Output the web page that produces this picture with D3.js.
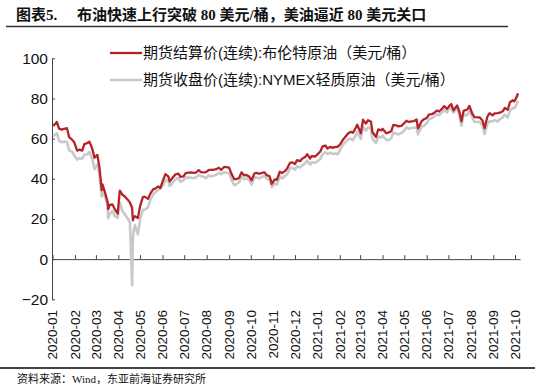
<!DOCTYPE html>
<html><head><meta charset="utf-8">
<script src="https://cdn.jsdelivr.net/npm/d3@7/dist/d3.min.js"></script>
<style>html,body{margin:0;padding:0;background:#fff}svg{display:block}</style>
</head><body><svg id="c" width="550" height="388"></svg>
<script>
const dates = ["2020-01-02","2020-01-07","2020-01-10","2020-01-14","2020-01-17","2020-01-21","2020-01-24","2020-01-28","2020-01-31",
"2020-02-04","2020-02-07","2020-02-11","2020-02-14","2020-02-18","2020-02-21","2020-02-25","2020-02-28",
"2020-03-03","2020-03-06","2020-03-09","2020-03-10","2020-03-13","2020-03-17","2020-03-18","2020-03-20","2020-03-24","2020-03-27","2020-03-31",
"2020-04-03","2020-04-07","2020-04-09","2020-04-14","2020-04-17","2020-04-20","2020-04-21","2020-04-22","2020-04-24","2020-04-28",
"2020-05-01","2020-05-05","2020-05-08","2020-05-12","2020-05-15","2020-05-19","2020-05-22","2020-05-26","2020-05-29",
"2020-06-02","2020-06-05","2020-06-09","2020-06-11","2020-06-16","2020-06-19","2020-06-23","2020-06-26","2020-06-30",
"2020-07-03","2020-07-07","2020-07-10","2020-07-14","2020-07-17","2020-07-21","2020-07-24","2020-07-28","2020-07-31",
"2020-08-04","2020-08-07","2020-08-11","2020-08-14","2020-08-18","2020-08-21","2020-08-25","2020-08-28",
"2020-09-01","2020-09-04","2020-09-08","2020-09-11","2020-09-15","2020-09-18","2020-09-22","2020-09-25","2020-09-29",
"2020-10-02","2020-10-06","2020-10-09","2020-10-13","2020-10-16","2020-10-20","2020-10-23","2020-10-27","2020-10-30",
"2020-11-03","2020-11-06","2020-11-10","2020-11-13","2020-11-17","2020-11-20","2020-11-24","2020-11-27",
"2020-12-01","2020-12-04","2020-12-08","2020-12-11","2020-12-15","2020-12-18","2020-12-22","2020-12-24","2020-12-29","2020-12-31",
"2021-01-05","2021-01-08","2021-01-12","2021-01-15","2021-01-19","2021-01-22","2021-01-26","2021-01-29",
"2021-02-02","2021-02-05","2021-02-09","2021-02-12","2021-02-16","2021-02-19","2021-02-23","2021-02-25",
"2021-03-02","2021-03-05","2021-03-09","2021-03-12","2021-03-16","2021-03-18","2021-03-23","2021-03-26","2021-03-30",
"2021-04-01","2021-04-06","2021-04-09","2021-04-13","2021-04-16","2021-04-20","2021-04-23","2021-04-27","2021-04-30",
"2021-05-04","2021-05-07","2021-05-11","2021-05-14","2021-05-18","2021-05-20","2021-05-25","2021-05-28",
"2021-06-01","2021-06-04","2021-06-08","2021-06-11","2021-06-15","2021-06-18","2021-06-22","2021-06-25","2021-06-29",
"2021-07-02","2021-07-05","2021-07-08","2021-07-13","2021-07-16","2021-07-19","2021-07-22","2021-07-27","2021-07-30",
"2021-08-03","2021-08-06","2021-08-10","2021-08-13","2021-08-17","2021-08-20","2021-08-24","2021-08-27","2021-08-31",
"2021-09-03","2021-09-07","2021-09-10","2021-09-14","2021-09-17","2021-09-21","2021-09-24","2021-09-28","2021-09-30",
"2021-10-04","2021-10-05"];
const brent = [66.3,68.3,65.0,64.5,64.9,65.2,60.7,59.5,58.2,
54.0,54.5,54.0,57.3,57.8,58.5,54.9,50.5,
51.9,45.3,34.4,37.2,33.9,28.7,24.9,27.0,27.2,24.9,22.7,
34.1,31.9,31.5,29.6,28.1,25.6,19.3,20.4,21.4,20.5,
26.4,31.0,31.0,30.0,32.5,34.7,35.1,36.2,35.3,
39.6,42.3,41.2,38.6,41.0,42.2,42.6,41.0,41.2,
42.8,43.1,43.2,42.9,43.1,44.3,43.3,43.2,43.3,
44.4,44.4,44.5,44.8,45.5,44.4,45.9,45.8,
45.6,42.7,39.8,39.8,40.5,43.2,41.7,41.9,41.0,
39.3,42.7,42.9,42.5,42.9,43.2,41.8,41.2,37.5,
39.7,39.5,43.6,42.8,43.8,45.0,47.9,48.2,
47.4,49.3,48.8,50.0,50.8,52.3,50.1,51.3,51.1,51.8,
53.6,56.0,56.6,55.1,55.9,55.4,55.9,55.9,
57.5,59.3,61.1,62.4,63.4,62.9,65.4,66.9,
62.7,69.4,67.5,69.2,68.4,63.3,60.8,64.6,64.1,
64.9,62.7,63.0,63.7,66.8,66.6,66.1,66.4,67.3,
68.9,68.3,68.6,68.7,69.5,65.1,68.7,69.6,
70.3,71.9,72.2,72.7,74.0,73.5,74.8,76.2,74.8,
76.2,77.2,74.1,76.5,73.6,68.6,73.8,74.5,76.3,
72.4,70.7,70.6,70.6,69.0,65.2,71.1,72.7,71.6,
72.6,72.7,72.9,73.6,75.3,74.4,78.1,79.1,78.5,
81.3,82.6];
const wti = [61.2,62.7,59.0,58.2,58.5,58.3,54.2,53.5,51.6,
49.6,50.3,49.9,52.1,52.1,53.4,49.9,44.8,
47.2,41.3,31.1,34.4,31.7,27.0,20.4,22.4,24.0,21.5,20.5,
28.3,23.6,22.8,20.1,18.3,-13.0,10.0,13.8,16.9,12.3,
19.8,24.6,24.7,25.8,29.4,32.0,33.3,34.4,35.5,
36.8,39.6,38.9,36.3,38.4,39.8,40.4,38.5,39.3,
40.7,40.6,40.6,40.3,40.6,41.9,41.3,41.0,40.3,
41.7,41.2,41.6,42.0,42.9,42.3,43.4,43.0,
42.8,39.8,36.8,37.3,38.3,41.1,39.8,40.3,39.3,
37.1,40.7,40.6,40.2,40.9,41.5,39.9,39.6,35.8,
37.7,37.1,41.4,40.1,41.4,42.2,45.1,45.5,
44.6,46.3,45.6,46.6,47.6,49.1,47.0,48.2,48.0,48.5,
49.9,52.2,53.2,52.4,53.0,52.3,52.6,52.2,
54.8,56.9,58.4,59.5,60.1,59.2,61.7,63.5,
59.8,66.1,64.0,65.6,64.8,60.0,57.8,61.0,60.6,
61.5,59.3,59.3,60.2,63.1,62.4,62.1,62.9,63.6,
65.7,64.9,65.3,65.4,65.5,62.1,66.1,66.3,
67.7,69.6,70.1,70.9,72.1,71.6,73.1,74.1,73.0,
75.2,75.2,72.9,75.3,71.8,66.4,71.9,71.7,74.0,
70.6,68.3,68.3,68.4,66.6,62.3,67.5,68.7,68.5,
69.3,68.4,69.7,70.5,72.0,70.5,74.0,75.3,75.0,
77.6,78.9];
const yTicks = [-20,0,20,40,60,80,100];
const seriesNames = ["期货结算价(连续):布伦特原油（美元/桶）","期货收盘价(连续):NYMEX轻质原油（美元/桶）"];
const titleLead = "图表5.";
const titleText = "布油快速上行突破 80 美元/桶，美油逼近 80 美元关口";
const sourceText = "资料来源：Wind，东亚前海证券研究所";

const parse = d3.timeParse("%Y-%m-%d");
const fmt = d3.timeFormat("%Y-%m");
const D = dates.map(parse);
const svg = d3.select("#c");
const x = d3.scaleTime().domain([new Date(2020,0,1), new Date(2021,9,1)]).range([52.5, 515]);
const y = d3.scaleLinear().domain([-20,100]).range([299.3, 58.3]);
const axisColor = "#444";
const latin = "'Liberation Sans', Arial, 'Noto Sans CJK SC', sans-serif";

// title
svg.append("text").attr("x",16).attr("y",20).attr("font-family","'Liberation Serif','Noto Sans CJK SC',serif")
  .attr("font-weight","bold").attr("font-size",15).attr("fill","#111").text(titleLead);
svg.append("text").attr("x",77).attr("y",20).attr("font-family","'Liberation Serif','Noto Sans CJK SC',serif")
  .attr("font-weight","bold").attr("font-size",15).attr("fill","#111").text(titleText);
svg.append("line").attr("x1",6).attr("x2",508).attr("y1",26.5).attr("y2",26.5).attr("stroke","#333").attr("stroke-width",1.5);

// y axis
const ya = svg.append("g").attr("transform","translate(52,0)")
  .call(d3.axisLeft(y).tickValues(yTicks).tickSizeInner(-3).tickSizeOuter(0).tickPadding(4)
    .tickFormat(d => d < 0 ? "\u2212" + Math.abs(d) : d));
ya.select(".domain").attr("stroke",axisColor);
ya.selectAll(".tick line").attr("stroke",axisColor);
ya.selectAll("text").attr("font-family",latin).attr("font-size",15.5).attr("fill","#111");

// x axis at zero
const xEnd = new Date(2021,9,8);
const months = d3.timeMonth.range(new Date(2020,0,1), new Date(2021,9,2));
const xa = svg.append("g").attr("transform",`translate(0,${y(0)})`)
  .call(d3.axisBottom(x.copy().domain([new Date(2020,0,1), xEnd]).range([52.5, x(xEnd)])).tickValues(months).tickSizeInner(-4).tickSizeOuter(0).tickFormat(""));
xa.select(".domain").attr("stroke",axisColor);
xa.selectAll(".tick line").attr("stroke",axisColor);

svg.append("g").selectAll("text").data(months).join("text")
  .attr("transform", d => `translate(${x(d)},310) rotate(-90)`)
  .attr("text-anchor","end").attr("dy","0.35em")
  .attr("font-family",latin).attr("font-size",13.5).attr("fill","#111")
  .text(d => fmt(d));

// lines
const line = vals => d3.line().x((d,i)=>x(D[i])).y(d=>y(d))(vals);
svg.append("path").attr("d",line(wti)).attr("fill","none").attr("stroke","#c9c9c9").attr("stroke-width",2.6).attr("stroke-linejoin","round");
svg.append("path").attr("d",line(brent)).attr("fill","none").attr("stroke","#b5232a").attr("stroke-width",2.3).attr("stroke-linejoin","round");

// legend
const lg = [{c:"#b5232a",w:2.3,y:53},{c:"#c9c9c9",w:2.6,y:80}];
lg.forEach((l,i)=>{
  svg.append("line").attr("x1",110).attr("x2",142).attr("y1",l.y).attr("y2",l.y).attr("stroke",l.c).attr("stroke-width",l.w);
  svg.append("text").attr("x",143).attr("y",l.y).attr("dy","0.35em").attr("font-family",latin)
    .attr("font-size",15).attr("fill","#111").text(seriesNames[i]);
});

// footer
svg.append("line").attr("x1",0).attr("x2",535).attr("y1",368).attr("y2",368).attr("stroke","#444").attr("stroke-width",2);
svg.append("text").attr("x",17).attr("y",383).attr("font-family","'Liberation Serif','Noto Sans CJK SC',serif")
  .attr("font-size",11).attr("fill","#111").text(sourceText);
</script></body></html>
